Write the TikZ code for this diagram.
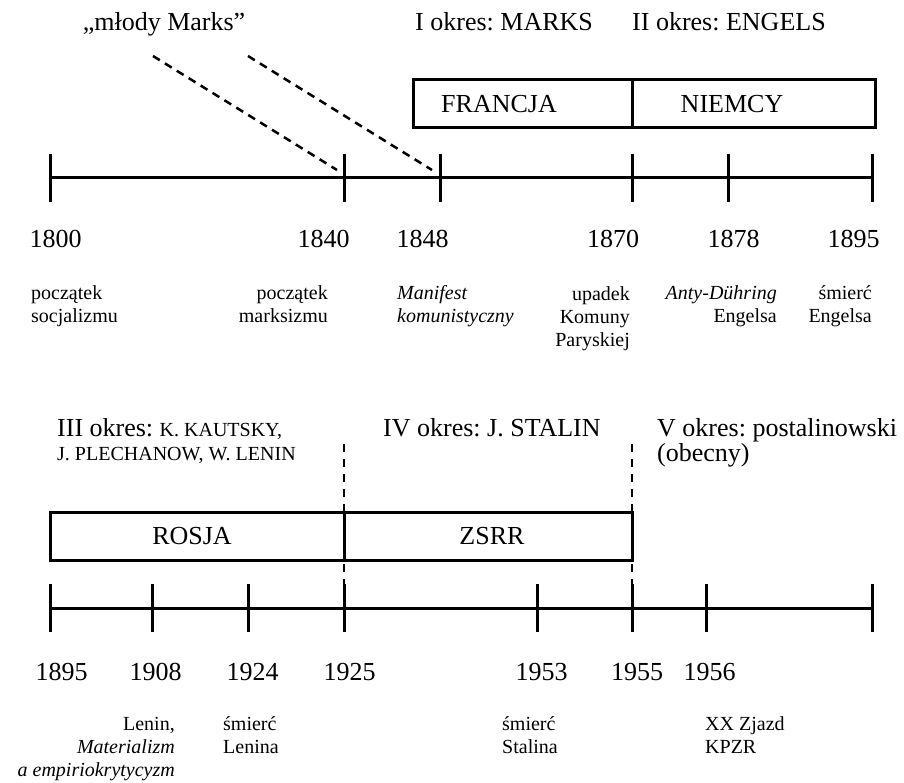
\documentclass[tikz,border=0pt]{standalone}
\usepackage{fontspec}
\setmainfont{Liberation Serif}
\usetikzlibrary{positioning}
\frenchspacing

\begin{document}
\begin{tikzpicture}[x=1pt,y=-1pt,
  duzy/.style={font=\fontsize{26}{30}\selectfont,inner sep=0pt},
  maly/.style={font=\fontsize{20}{23}\selectfont,inner sep=0pt},
  gruba/.style={line width=3pt},
  kreska/.style={line width=2.5pt,dash pattern=on 8pt off 6pt},
  pion/.style={line width=2pt,dash pattern=on 8pt off 7pt}]
\useasboundingbox (0,0) rectangle (904,783);

% gorna os: 1800--1895
\foreach \x/\r in {50/1800,344/1840,440/1848,632/1870,728/1878,872/1895}{
  \coordinate (g\r) at (\x,178);
  \draw[gruba] (g\r) ++(0,-24) -- ++(0,48);
}
\draw[gruba] (g1800) -- (g1895);

\node[duzy,anchor=base] (mlody) at (164,31) {„młody Marks”};
\node[duzy,anchor=base west] (okres1) at (415,31) {I okres: MARKS};
\node[duzy,anchor=base west] (okres2) at (632,31) {II okres: ENGELS};
\coordinate (m1) at (153,56);
\coordinate (m2) at (248,56);
\draw[kreska] (m1) -- ([shift={(-7,-8)}]g1840);
\draw[kreska] (m2) -- ([shift={(-8,-8)}]g1848);

\draw[gruba] (413,80) rectangle (875,128);
\draw[gruba] (632,80) -- (632,128);
\node[duzy] (francja) at (499,104) {FRANCJA};
\node[duzy] (niemcy) at (732,104) {NIEMCY};

\foreach \c/\r in {55.5/1800,323.5/1840,422.5/1848,613/1870,733.5/1878,853.5/1895}
  \node[duzy,anchor=base] (r\r) at (\c,248) {\r};

% podpisy: base = ostatni wiersz
\node[maly,anchor=base west,align=left] (e1800) at (31,323) {początek\\socjalizmu};
\node[maly,anchor=base east,align=right] (e1840) at (328,323) {początek\\marksizmu};
\node[maly,anchor=base west,align=left,font=\fontsize{20}{23}\selectfont\itshape] (e1848) at (397,323) {Manifest\\komunistyczny};
\node[maly,anchor=base east,align=right] (e1870) at (630,346) {upadek\\Komuny\\Paryskiej};
\node[maly,anchor=base east,align=right] (e1878) at (777,323) {\textit{Anty-Dühring}\\Engelsa};
\node[maly,anchor=base east,align=right] (e1895) at (872,323) {śmierć\\Engelsa};

% dolna os: 1895--1956
\foreach \x/\r in {50/1895,152/1908,248/1924,344/1925,537/1953,632/1955,706/1956,872/dalej}{
  \coordinate (d\r) at (\x,608);
  \draw[gruba] (d\r) ++(0,-24) -- ++(0,48);
}
\draw[gruba] (d1895) -- (ddalej);

\node[duzy,anchor=base west] (okres3) at (57,436) {III okres: {\fontsize{20}{23}\selectfont K. KAUTSKY,}};
\node[maly,anchor=base west] (okres3b) at (57,460) {J. PLECHANOW, W. LENIN};
\node[duzy,anchor=base west] (okres4) at (383,436) {IV okres: J. STALIN};
\node[duzy,anchor=base west] (okres5) at (657,436) {V okres: postalinowski};
\node[duzy,anchor=base west] (okres5b) at (657,461) {(obecny)};

\coordinate (p1) at (344,444);
\coordinate (p2) at (632,444);
\draw[pion] (p1) -- ([yshift=-24pt]d1925);
\draw[pion] (p2) -- ([yshift=-24pt]d1955);

\draw[gruba] (50,512) rectangle (632,560);
\draw[gruba] (344,512) -- (344,560);
\node[duzy] (rosja) at (192,536) {ROSJA};
\node[duzy] (zsrr) at (492,536) {ZSRR};

\foreach \c/\r in {61.5/1895,155.5/1908,252.5/1924,349.5/1925,541.5/1953,637/1955,709.5/1956}
  \node[duzy,anchor=base] (s\r) at (\c,680) {\r};

\node[maly,anchor=base east,align=right] (f1908) at (175,776) {Lenin,\\\textit{Materializm}\\\textit{a empiriokrytycyzm}};
\node[maly,anchor=base west,align=left] (f1924) at (223,753) {śmierć\\Lenina};
\node[maly,anchor=base west,align=left] (f1953) at (502,753) {śmierć\\Stalina};
\node[maly,anchor=base west,align=left] (f1956) at (705,753) {XX Zjazd\\KPZR};
\end{tikzpicture}
\end{document}
